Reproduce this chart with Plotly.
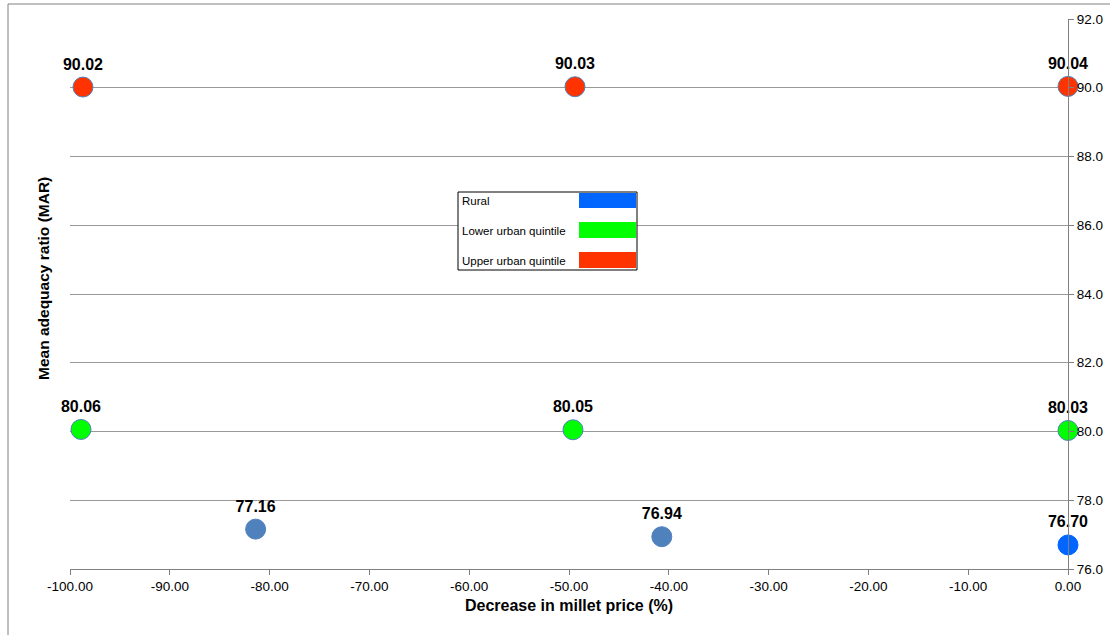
import plotly.graph_objects as go

# Simulated mean adequacy ratio under millet price decreases
price_rural = [-81.4, -40.7, 0.0]
mar_rural = [77.16, 76.94, 76.70]
rural_colors = ["#4F81BD", "#4F81BD", "#0066FF"]

price_lower = [-98.9, -49.6, 0.0]
mar_lower = [80.06, 80.05, 80.03]

price_upper = [-98.7, -49.4, 0.0]
mar_upper = [90.02, 90.03, 90.04]

legend_names = ["Rural", "Lower urban quintile", "Upper urban quintile"]
legend_colors = ["#0066FF", "#00FF00", "#FF3300"]

x_ticks = [-100, -90, -80, -70, -60, -50, -40, -30, -20, -10, 0]
y_ticks = [76, 78, 80, 82, 84, 86, 88, 90, 92]

W, H = 1110, 635
L, R, T, B = 70, 42, 19, 66
PW, PH = W - L - R, H - T - B


def px(x):
    return (x - L) / PW


def py(y):
    return (H - B - y) / PH


label_font = dict(family="Arial, Liberation Sans", size=16, color="black")


def series(x, y, color, outline):
    return go.Scatter(
        x=x, y=y, mode="markers+text",
        text=[f"<b>{v:.2f}</b>" for v in y],
        textposition="top center",
        textfont=label_font,
        marker=dict(size=20, color=color, line=dict(color=outline, width=1)),
        cliponaxis=False, showlegend=False, hoverinfo="skip",
    )


fig = go.Figure()
fig.add_trace(series(price_upper, mar_upper, "#FF3300", "#4F81BD"))
fig.add_trace(series(price_lower, mar_lower, "#00FF00", "#4F81BD"))
fig.add_trace(series(price_rural, mar_rural, rural_colors, rural_colors))

shapes = [
    # outer frame
    dict(type="rect", xref="paper", yref="paper",
         x0=px(8), x1=px(1200), y0=py(700), y1=py(4),
         line=dict(color="#808080", width=1), fillcolor="rgba(0,0,0,0)",
         layer="below"),
    # legend box
    dict(type="rect", xref="paper", yref="paper",
         x0=px(458), x1=px(637), y0=py(270), y1=py(192),
         line=dict(color="black", width=1), fillcolor="white", layer="above"),
]
annotations = []
rows = [(193, 208, 201), (222, 238, 231), (252, 268, 261)]
for name, col, (s0, s1, ty) in zip(legend_names, legend_colors, rows):
    shapes.append(dict(type="rect", xref="paper", yref="paper",
                       x0=px(579), x1=px(636), y0=py(s1), y1=py(s0),
                       line=dict(width=0), fillcolor=col, layer="above"))
    annotations.append(dict(xref="paper", yref="paper", x=px(460), y=py(ty),
                            text=name, showarrow=False, xanchor="left",
                            yanchor="middle",
                            font=dict(family="Arial, Liberation Sans", size=11.5,
                                      color="black")))

annotations.append(dict(xref="paper", yref="paper", x=px(43), y=py(279),
                        text="<b>Mean adequacy ratio (MAR)</b>", textangle=-90,
                        showarrow=False, xanchor="center", yanchor="middle",
                        font=dict(family="Arial, Liberation Sans", size=15.5,
                                  color="black")))

fig.update_layout(
    width=W, height=H,
    margin=dict(l=L, r=R, t=T, b=B, pad=0, autoexpand=False),
    paper_bgcolor="white", plot_bgcolor="white",
    shapes=shapes, annotations=annotations,
    font=dict(family="Arial, Liberation Sans", size=13.5, color="black"),
    xaxis=dict(
        range=[-100, 0], tickvals=x_ticks,
        ticktext=[f"{v:.2f}" for v in x_ticks],
        showgrid=False, zeroline=False, automargin=False,
        showline=True, linecolor="#808080", linewidth=1,
        ticks="outside", ticklen=5, tickcolor="#808080",
        title=dict(text="<b>Decrease in millet price (%)</b>",
                   font=dict(size=16), standoff=6),
    ),
    yaxis=dict(
        range=[76, 92], tickvals=y_ticks,
        ticktext=[f"{v:.1f}" for v in y_ticks],
        side="right", showgrid=True, gridcolor="#999999", gridwidth=1,
        zeroline=False, showline=True, linecolor="#808080", linewidth=1,
        ticks="outside", ticklen=5, tickcolor="#808080", automargin=False,
    ),
)

fig.write_html("out.html")
